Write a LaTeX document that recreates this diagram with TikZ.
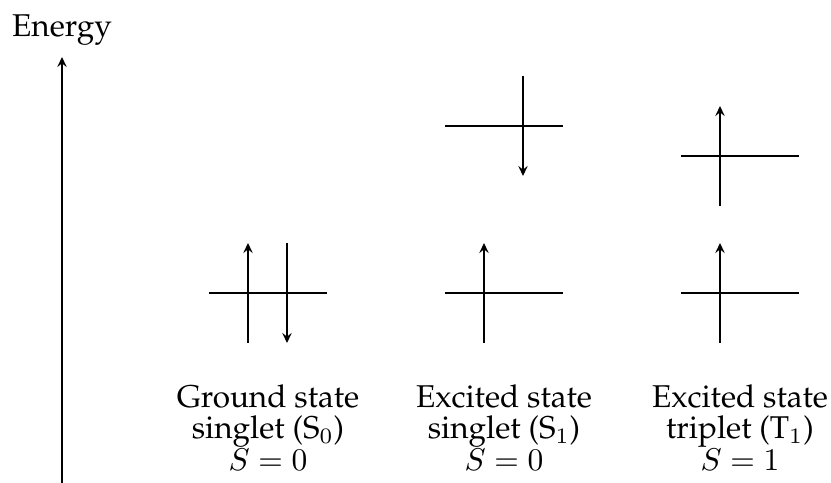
\documentclass[tikz,border=0pt]{standalone}
\usepackage[T1]{fontenc}
\renewcommand{\rmdefault}{ppl}
\usetikzlibrary{arrows.meta}
\begin{document}
\begin{tikzpicture}[x=0.3175pt,y=-0.3175pt,
  line/.style={line width=0.8pt},
  spin/.style={line width=0.8pt,-{Stealth[length=3.2pt,width=3pt,inset=1.2pt]}},
  lbl/.style={align=center,anchor=base,inner sep=0pt,font=\fontsize{10}{10}\selectfont}]
\useasboundingbox (0,0) rectangle (831,483);
% energy axis
\node[anchor=base,inner sep=0pt,font=\fontsize{10}{10}\selectfont] (en) at (62,37) {Energy};
\coordinate (axb) at (62,483);
\coordinate (axt) at (62,57);
\draw[spin] (axb) -- (axt);
% ground state
\coordinate (g-l) at (209,293); \coordinate (g-r) at (327,293);
\draw[line] (g-l) -- (g-r);
\coordinate (g-ua) at (248,343); \coordinate (g-ub) at (248,243);
\coordinate (g-da) at (287,243); \coordinate (g-db) at (287,343);
\draw[spin] (g-ua) -- (g-ub);
\draw[spin] (g-da) -- (g-db);
% excited singlet
\coordinate (s-l) at (445,293); \coordinate (s-r) at (563,293);
\draw[line] (s-l) -- (s-r);
\coordinate (s-ua) at (484,343); \coordinate (s-ub) at (484,243);
\draw[spin] (s-ua) -- (s-ub);
\coordinate (s2-l) at (445,126); \coordinate (s2-r) at (563,126);
\draw[line] (s2-l) -- (s2-r);
\coordinate (s2-da) at (523,76); \coordinate (s2-db) at (523,176);
\draw[spin] (s2-da) -- (s2-db);
% excited triplet
\coordinate (t-l) at (681,293); \coordinate (t-r) at (799,293);
\draw[line] (t-l) -- (t-r);
\coordinate (t-ua) at (720,343); \coordinate (t-ub) at (720,243);
\draw[spin] (t-ua) -- (t-ub);
\coordinate (t2-l) at (681,156); \coordinate (t2-r) at (799,156);
\draw[line] (t2-l) -- (t2-r);
\coordinate (t2-ua) at (720,206); \coordinate (t2-ub) at (720,106);
\draw[spin] (t2-ua) -- (t2-ub);
% labels
\node[lbl] (gl) at (268,470) {Ground state\\singlet (S$_0$)\\$S=0$};
\node[lbl] (sl) at (504,470) {Excited state\\singlet (S$_1$)\\$S=0$};
\node[lbl] (tl) at (740,470) {Excited state\\triplet (T$_1$)\\$S=1$};
\end{tikzpicture}
\end{document}
